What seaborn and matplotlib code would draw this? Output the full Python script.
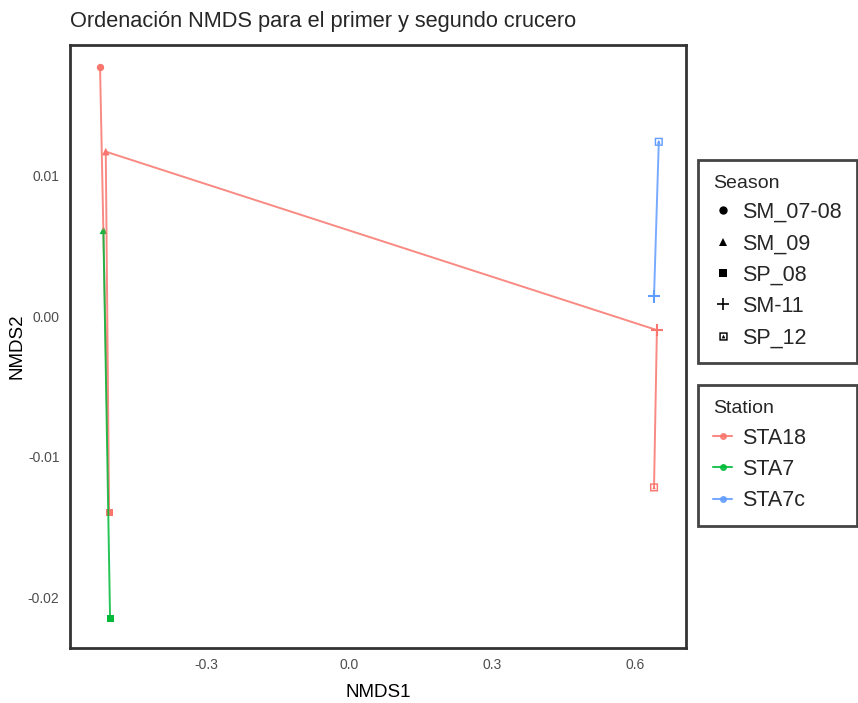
import matplotlib
matplotlib.use("Agg")
import pandas as pd
import matplotlib.pyplot as plt
from matplotlib.lines import Line2D
from matplotlib.path import Path
import seaborn as sns

# --- Data (path order per station) ---
stations = ["STA18", "STA18", "STA18", "STA18", "STA18",
            "STA7", "STA7", "STA7c", "STA7c"]
seasons = ["SM_07-08", "SP_08", "SM_09", "SM-11", "SP_12",
           "SM_09", "SP_08", "SM-11", "SP_12"]
nmds1 = [-0.522, -0.503, -0.510, 0.646, 0.640, -0.515, -0.501, 0.640, 0.650]
nmds2 = [0.0177, -0.0140, 0.0117, -0.0010, -0.0122,
         0.0061, -0.0215, 0.0014, 0.0124]

station_order = ["STA18", "STA7", "STA7c"]
season_order = ["SM_07-08", "SM_09", "SP_08", "SM-11", "SP_12"]
palette = {"STA18": "#F8766D", "STA7": "#00BA38", "STA7c": "#619CFF"}

x_ticks = [-0.3, 0.0, 0.3, 0.6]
x_labels = ["-0.3", "0.0", "0.3", "0.6"]
y_ticks = [0.01, 0.00, -0.01, -0.02]
y_labels = ["0.01", "0.00", "-0.01", "-0.02"]

df = pd.DataFrame({"Station": stations, "Season": seasons,
                   "NMDS1": nmds1, "NMDS2": nmds2})

# square with a small triangle inside (ggplot shape 14 look)
box_verts = [(-1, -1), (1, -1), (1, 1), (-1, 1), (-1, -1),
             (-0.65, -0.65), (-0.65, 0.65), (0.65, 0.65), (0.65, -0.65), (-0.65, -0.65),
             (-0.45, -0.45), (0.45, -0.45), (0.0, 0.45), (-0.45, -0.45)]
box_codes = ([Path.MOVETO] + [Path.LINETO] * 3 + [Path.CLOSEPOLY]) * 2 + \
    [Path.MOVETO, Path.LINETO, Path.LINETO, Path.CLOSEPOLY]
box_marker = Path(box_verts, box_codes)

markers = {"SM_07-08": "o", "SM_09": "^", "SP_08": "s",
           "SM-11": "+", "SP_12": box_marker}
msizes = {"SM_07-08": 28, "SM_09": 30, "SP_08": 26, "SM-11": 80, "SP_12": 34}

sns.set_style("white")
plt.rcParams["font.family"] = ["Liberation Sans", "DejaVu Sans"]

fig = plt.figure(figsize=(8.58, 7.03), dpi=100)
ax = fig.add_axes([0.0816, 0.0782, 0.7179, 0.8578])

sns.lineplot(data=df, x="NMDS1", y="NMDS2", hue="Station",
             hue_order=station_order, palette=palette, sort=False,
             estimator=None, linewidth=1.4, alpha=0.85, legend=False, ax=ax)

for s in season_order:
    sub = df[df["Season"] == s]
    if sub.empty:
        continue
    kw = {"linewidth": 1.5} if s == "SM-11" else {"linewidth": 0}
    sns.scatterplot(data=sub, x="NMDS1", y="NMDS2", hue="Station",
                    hue_order=station_order, palette=palette,
                    marker=markers[s], s=msizes[s], legend=False, ax=ax, **kw)

ax.set_xlim(-0.585, 0.707)
ax.set_ylim(-0.02363, 0.01929)
ax.set_xticks(x_ticks)
ax.set_xticklabels(x_labels)
ax.set_yticks(y_ticks)
ax.set_yticklabels(y_labels)
ax.tick_params(axis="both", colors="#4D4D4D", labelsize=10, length=4,
               width=1.2, direction="out", labelcolor="#4D4D4D")
for sp in ax.spines.values():
    sp.set_color("#333333")
    sp.set_linewidth(2)
ax.set_xlabel("NMDS1", fontsize=13.5, color="black", labelpad=8)
ax.set_ylabel("NMDS2", fontsize=13.5, color="black", labelpad=2)
ax.set_title("Ordenación NMDS para el primer y segundo crucero",
             fontsize=15.7, loc="left", pad=13)

# --- Legends ---
season_handles = [
    Line2D([], [], linestyle="none", marker=markers[s], color="black",
           markersize=6 if s != "SM-11" else 8,
           markeredgewidth=1.2 if s == "SM-11" else 0)
    for s in season_order
]
station_handles = [
    Line2D([], [], color=palette[st], marker="o", markersize=4,
           linewidth=1.5, alpha=0.85)
    for st in station_order
]

leg_kw = dict(frameon=True, fancybox=False, edgecolor="#444444",
              fontsize=15.5, title_fontsize=14, handlelength=0.9,
              handletextpad=0.45, labelspacing=0.48, borderpad=0.7,
              borderaxespad=0, framealpha=1, mode="expand", loc="upper left")

leg1 = fig.legend(season_handles, season_order, title="Season",
                  bbox_to_anchor=(0.8135, 0.773, 0.1855, 0), **leg_kw)
leg1.get_frame().set_linewidth(2)
leg1._legend_box.align = "left"

leg2 = fig.legend(station_handles, station_order, title="Station",
                  bbox_to_anchor=(0.8135, 0.452, 0.1855, 0), **leg_kw)
leg2.get_frame().set_linewidth(2)
leg2._legend_box.align = "left"

fig.savefig("out.png", dpi=100)
